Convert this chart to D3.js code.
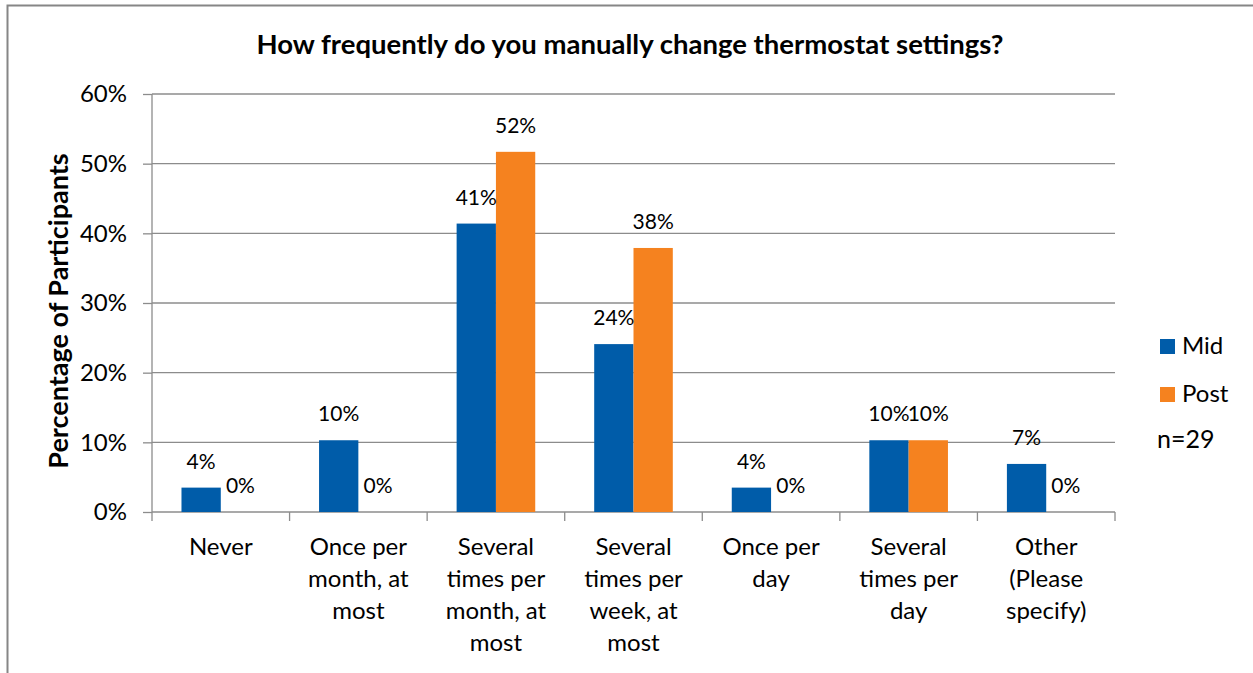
<!DOCTYPE html>
<html>
<head>
<meta charset="utf-8">
<script src="https://cdn.jsdelivr.net/npm/d3@7"></script>
<style>
  body { margin: 0; background: #fff; }
  text { font-family: Lato, "Open Sans", sans-serif; fill: #000; }
</style>
</head>
<body>
<div id="chart"></div>
<script>
// data (percent of n=29 participants)
var categories = [
  ["Never"],
  ["Once per", "month, at", "most"],
  ["Several", "times per", "month, at", "most"],
  ["Several", "times per", "week, at", "most"],
  ["Once per", "day"],
  ["Several", "times per", "day"],
  ["Other", "(Please", "specify)"]
];
var series = ["Mid", "Post"];
var midValues = [3.5, 10.3, 41.4, 24.1, 3.5, 10.3, 6.9];
var postValues = [0, 0, 51.7, 37.9, 0, 10.3, 0];
var yTicks = [0, 10, 20, 30, 40, 50, 60];
var colors = ["#005ca9", "#f5821f"];

var width = 1253, height = 673;
var margin = {top: 94, right: 138, bottom: 161, left: 152};
var plotW = width - margin.left - margin.right,
    plotH = height - margin.top - margin.bottom;

var svg = d3.select("#chart").append("svg")
  .attr("width", width)
  .attr("height", height);

// outer chart frame
svg.append("rect")
  .attr("x", 7.5).attr("y", 5.5)
  .attr("width", 1260).attr("height", 700)
  .attr("fill", "none").attr("stroke", "#868686").attr("stroke-width", 2);

svg.append("text")
  .attr("x", 630).attr("y", 54)
  .attr("text-anchor", "middle")
  .style("font-weight", "bold").style("font-size", "27.5px")
  .text("How frequently do you manually change thermostat settings?");

var g = svg.append("g")
  .attr("transform", "translate(" + margin.left + "," + margin.top + ")");

var rows = categories.map(function(c, i) {
  return {key: i, lines: c, values: [midValues[i], postValues[i]]};
});

var x0 = d3.scaleBand().domain(d3.range(categories.length)).range([0, plotW]).padding(0);
var barW = x0.bandwidth() / 3.5;
var x1 = d3.scaleBand().domain(series)
  .range([barW * 0.75, x0.bandwidth() - barW * 0.75]).padding(0);
var y = d3.scaleLinear().domain([0, 60]).range([plotH, 0]);

// gridlines
g.append("g").selectAll("line")
  .data(yTicks.slice(1))
  .enter().append("line")
  .attr("x1", 0).attr("x2", plotW)
  .attr("y1", function(d) { return y(d); })
  .attr("y2", function(d) { return y(d); })
  .attr("stroke", "#8c8c8c").attr("stroke-width", 1.3);

// y axis
var yAxis = g.append("g")
  .call(d3.axisLeft(y).tickValues(yTicks).tickSize(9).tickPadding(16)
    .tickFormat(function(d) { return d + "%"; }));
yAxis.selectAll("line, path").attr("stroke", "#8c8c8c").attr("stroke-width", 1.3);
yAxis.select(".domain").attr("d", "M0," + plotH + "V0");
yAxis.selectAll("text").style("font-size", "24px").style("font-family", "Lato");

// x axis with ticks between categories
var xAxis = g.append("g").attr("transform", "translate(0," + plotH + ")");
xAxis.append("line").attr("x1", 0).attr("x2", plotW)
  .attr("stroke", "#8c8c8c").attr("stroke-width", 1.3);
xAxis.selectAll(".tk")
  .data(d3.range(categories.length + 1))
  .enter().append("line")
  .attr("x1", function(d) { return d === categories.length ? plotW : x0(d); })
  .attr("x2", function(d) { return d === categories.length ? plotW : x0(d); })
  .attr("y1", 0).attr("y2", 9)
  .attr("stroke", "#8c8c8c").attr("stroke-width", 1.3);

var lbl = xAxis.selectAll(".cat")
  .data(rows)
  .enter().append("text")
  .attr("text-anchor", "middle")
  .style("font-size", "24px")
  .attr("transform", function(d) { return "translate(" + (x0(d.key) + x0.bandwidth() / 2) + ",0)"; });
lbl.selectAll("tspan")
  .data(function(d) { return d.lines; })
  .enter().append("tspan")
  .attr("x", 0)
  .attr("y", function(d, i) { return 43 + i * 32; })
  .text(function(d) { return d; });

// bars
var grp = g.selectAll(".grp")
  .data(rows)
  .enter().append("g")
  .attr("transform", function(d) { return "translate(" + x0(d.key) + ",0)"; });

grp.selectAll("rect")
  .data(function(d) { return d.values.map(function(v, i) { return {s: series[i], v: v, i: i}; }); })
  .enter().append("rect")
  .attr("x", function(d) { return x1(d.s); })
  .attr("width", x1.bandwidth())
  .attr("y", function(d) { return y(d.v); })
  .attr("height", function(d) { return plotH - y(d.v); })
  .attr("fill", function(d) { return colors[d.i]; });

grp.selectAll(".val")
  .data(function(d) { return d.values.map(function(v, i) { return {s: series[i], v: v}; }); })
  .enter().append("text")
  .attr("text-anchor", "middle")
  .style("font-size", "21px")
  .attr("x", function(d) { return x1(d.s) + x1.bandwidth() / 2; })
  .attr("y", function(d) { return y(d.v) - 19; })
  .text(function(d) { return Math.round(d.v) + "%"; });

// y axis title
svg.append("text")
  .attr("transform", "translate(68," + 311 + ") rotate(-90)")
  .attr("text-anchor", "middle")
  .style("font-weight", "bold").style("font-size", "27px")
  .text("Percentage of Participants");

// legend
var leg = svg.append("g").selectAll("g")
  .data(series)
  .enter().append("g")
  .attr("transform", function(d, i) { return "translate(1160," + (339 + i * 48) + ")"; });
leg.append("rect").attr("width", 15).attr("height", 15)
  .attr("fill", function(d, i) { return colors[i]; });
leg.append("text").attr("x", 22).attr("y", 15)
  .style("font-size", "24px").text(function(d) { return d; });

svg.append("text")
  .attr("x", 1157).attr("y", 448)
  .style("font-size", "25px")
  .text("n=29");
</script>
</body>
</html>
